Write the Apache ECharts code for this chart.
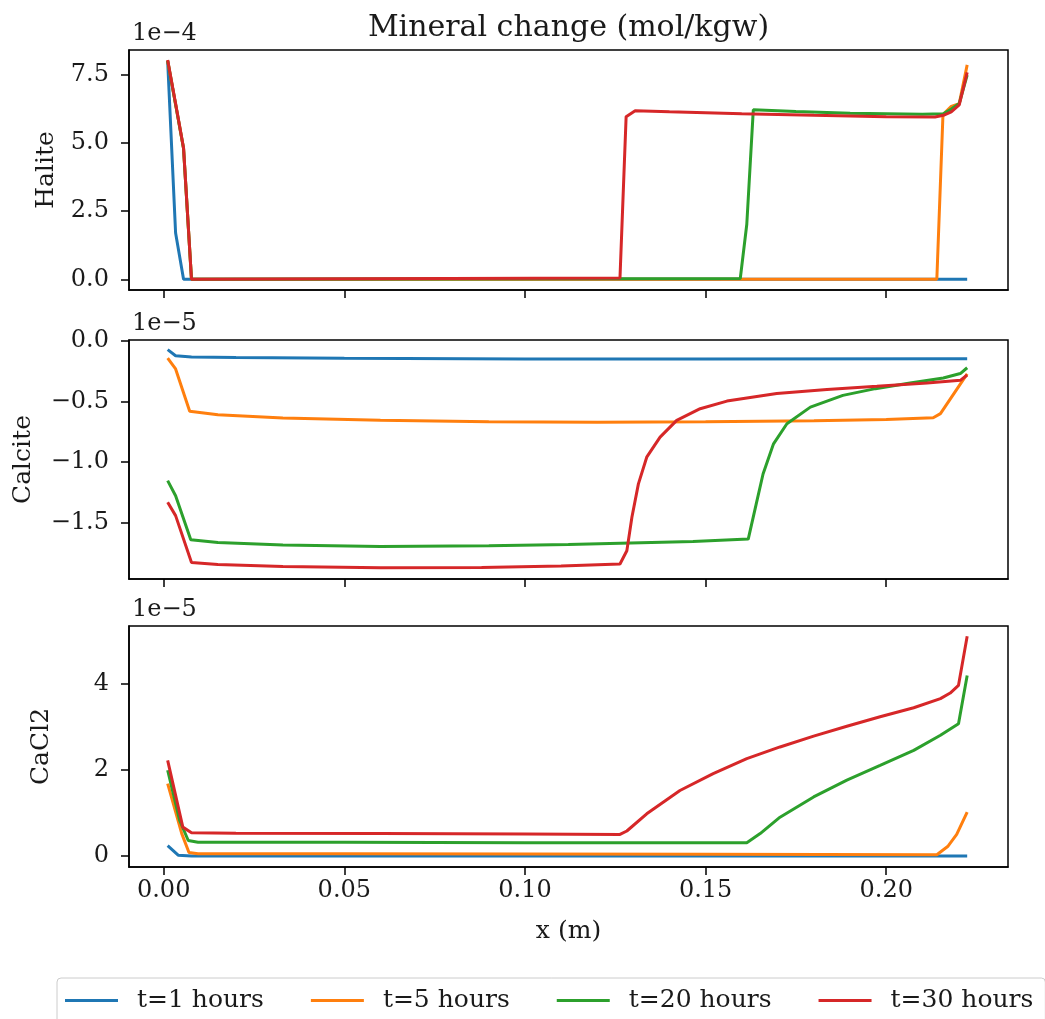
<!DOCTYPE html>
<html>
<head>
<meta charset="utf-8">
<script src="https://cdn.jsdelivr.net/npm/echarts@6/dist/echarts.min.js"></script>
<style>
  html, body { margin: 0; padding: 0; background: #fff; }
  #chart { width: 1045px; height: 1019px; }
</style>
</head>
<body>
<div id="chart"></div>
<script>
// ---- data: [x (m), value] pairs; halite in 1e-4 mol/kgw, calcite and CaCl2 in 1e-5 mol/kgw ----
const seriesNames = ['t=1 hours', 't=5 hours', 't=20 hours', 't=30 hours'];

const haliteT1 = [[0.0011, 8.02], [0.0033, 1.70], [0.0055, 0], [0.2224, 0]];
const haliteT5 = [[0.0011, 8.02], [0.0033, 6.42], [0.0055, 4.80], [0.0077, 0], [0.2140, 0],
  [0.2157, 6.05], [0.2180, 6.35], [0.2202, 6.45], [0.2224, 7.87]];
const haliteT20 = [[0.0011, 8.02], [0.0033, 6.42], [0.0055, 4.80], [0.0077, 0], [0.1596, 0.03],
  [0.1614, 2.02], [0.1632, 6.22], [0.1750, 6.16], [0.1900, 6.10], [0.2100, 6.06], [0.2158, 6.08],
  [0.2180, 6.25], [0.2202, 6.45], [0.2224, 7.50]];
const haliteT30 = [[0.0011, 8.05], [0.0033, 6.45], [0.0055, 4.82], [0.0077, 0], [0.1263, 0.05],
  [0.1280, 5.97], [0.1305, 6.19], [0.1400, 6.15], [0.1600, 6.08], [0.1800, 6.02], [0.2000, 5.97],
  [0.2135, 5.96], [0.2158, 6.02], [0.2180, 6.15], [0.2202, 6.40], [0.2224, 7.60]];

const calciteT1 = [[0.0011, -0.07], [0.0033, -0.12], [0.0077, -0.13], [0.0200, -0.135],
  [0.0500, -0.142], [0.1000, -0.147], [0.1500, -0.148], [0.2224, -0.146]];
const calciteT5 = [[0.0011, -0.14], [0.0033, -0.23], [0.0072, -0.58], [0.0150, -0.61],
  [0.0330, -0.637], [0.0600, -0.655], [0.0900, -0.667], [0.1200, -0.672], [0.1500, -0.668],
  [0.1800, -0.660], [0.2000, -0.648], [0.2130, -0.634], [0.2150, -0.60], [0.2224, -0.27]];
const calciteT20 = [[0.0011, -1.155], [0.0033, -1.28], [0.0075, -1.645], [0.0150, -1.667],
  [0.0330, -1.689], [0.0600, -1.700], [0.0900, -1.694], [0.1120, -1.684], [0.1465, -1.660],
  [0.1618, -1.639], [0.1640, -1.35], [0.1659, -1.10], [0.1688, -0.85], [0.1725, -0.684],
  [0.1790, -0.546], [0.1880, -0.449], [0.1970, -0.393], [0.2066, -0.346], [0.2158, -0.305],
  [0.2205, -0.268], [0.2224, -0.22]];
const calciteT30 = [[0.0011, -1.335], [0.0033, -1.445], [0.0077, -1.833], [0.0150, -1.850],
  [0.0330, -1.866], [0.0600, -1.877], [0.0880, -1.874], [0.1100, -1.862], [0.1263, -1.846],
  [0.1282, -1.736], [0.1296, -1.459], [0.1314, -1.182], [0.1337, -0.961], [0.1374, -0.795],
  [0.1420, -0.656], [0.1485, -0.559], [0.1559, -0.496], [0.1697, -0.434], [0.1836, -0.401],
  [0.1974, -0.374], [0.2113, -0.346], [0.2205, -0.324], [0.2224, -0.28]];

const cacl2T1 = [[0.0011, 0.24], [0.0040, 0.02], [0.0077, 0], [0.2224, 0]];
const cacl2T5 = [[0.0011, 1.68], [0.0050, 0.52], [0.0070, 0.08], [0.0095, 0.05], [0.0500, 0.05],
  [0.1500, 0.04], [0.2140, 0.03], [0.2170, 0.22], [0.2195, 0.50], [0.2224, 1.02]];
const cacl2T20 = [[0.0011, 1.99], [0.0044, 0.83], [0.0068, 0.36], [0.0095, 0.32], [0.0500, 0.32],
  [0.1000, 0.31], [0.1614, 0.31], [0.1651, 0.52], [0.1706, 0.90], [0.1799, 1.37], [0.1891, 1.76],
  [0.1983, 2.10], [0.2076, 2.45], [0.2150, 2.80], [0.2200, 3.07], [0.2224, 4.19]];
const cacl2T30 = [[0.0011, 2.22], [0.0053, 0.67], [0.0077, 0.54], [0.0200, 0.53], [0.0600, 0.52],
  [0.1000, 0.51], [0.1263, 0.50], [0.1282, 0.58], [0.1337, 0.98], [0.1429, 1.52], [0.1521, 1.91],
  [0.1614, 2.26], [0.1706, 2.53], [0.1799, 2.78], [0.1891, 3.01], [0.1983, 3.23], [0.2076, 3.44],
  [0.2150, 3.65], [0.2177, 3.78], [0.2200, 3.96], [0.2224, 5.10]];

// tick positions
const xTicks = [0, 0.05, 0.10, 0.15, 0.20];
const haliteTicks = [0, 2.5, 5.0, 7.5];
const calciteTicks = [-1.5, -1.0, -0.5, 0.0];
const cacl2Ticks = [0, 2, 4];

// ---- layout and style ----
const FONT = '"DejaVu Serif", serif';
const FS = 24;      // tick labels
const FS_NAME = 25; // axis titles and legend
const COLORS = ['#1f77b4', '#ff7f0e', '#2ca02c', '#d62728'];
const TEXT = '#1a1a1a';
const LEFT = 129, RIGHT = 1008;
const panels = [
  { top: 50, height: 240, min: -0.393, max: 8.418, ticks: haliteTicks, digits: 1,
    name: 'Halite', gap: 70, scale: '1e\u22124', data: [haliteT1, haliteT5, haliteT20, haliteT30] },
  { top: 340, height: 239, min: -1.97, max: 0.01, ticks: calciteTicks, digits: 1,
    name: 'Calcite', gap: 93, scale: '1e\u22125', data: [calciteT1, calciteT5, calciteT20, calciteT30] },
  { top: 626, height: 241, min: -0.255, max: 5.336, ticks: cacl2Ticks, digits: 0,
    name: 'CaCl2', gap: 75, scale: '1e\u22125', data: [cacl2T1, cacl2T5, cacl2T20, cacl2T30] }
];

const fmt = (v, d) => (v < 0 ? '\u2212' : '') + Math.abs(v).toFixed(d);

const grids = [], xAxes = [], yAxes = [], series = [], graphics = [];
panels.forEach((p, i) => {
  grids.push({ left: LEFT, width: RIGHT - LEFT, top: p.top, height: p.height,
    show: true, borderColor: '#000', borderWidth: 1.5, backgroundColor: 'transparent' });
  xAxes.push({
    type: 'value', gridIndex: i, min: -0.0096, max: 0.2337,
    axisLine: { show: true, onZero: false, lineStyle: { color: '#000', width: 1.5 } },
    axisTick: { show: true, length: 8, customValues: xTicks, lineStyle: { color: '#000', width: 1.5 } },
    axisLabel: { show: i === 2, customValues: xTicks, margin: 12, fontFamily: FONT, fontSize: FS,
      color: TEXT, formatter: v => v.toFixed(2) },
    splitLine: { show: false },
    name: i === 2 ? 'x (m)' : '', nameLocation: 'middle', nameGap: 52,
    nameTextStyle: { fontFamily: FONT, fontSize: FS_NAME, color: TEXT }
  });
  yAxes.push({
    type: 'value', gridIndex: i, min: p.min, max: p.max,
    axisLine: { show: true, onZero: false, lineStyle: { color: '#000', width: 1.5 } },
    axisTick: { show: true, length: 8, customValues: p.ticks, lineStyle: { color: '#000', width: 1.5 } },
    axisLabel: { customValues: p.ticks, margin: 20, fontFamily: FONT, fontSize: FS, color: TEXT,
      formatter: v => fmt(v, p.digits) },
    splitLine: { show: false },
    name: p.name, nameLocation: 'middle', nameRotate: 90, nameGap: p.gap,
    nameTextStyle: { fontFamily: FONT, fontSize: FS_NAME, color: TEXT }
  });
  p.data.forEach((d, k) => {
    series.push({
      type: 'line', name: seriesNames[k], xAxisIndex: i, yAxisIndex: i, data: d,
      showSymbol: false, symbol: 'none', color: COLORS[k],
      lineStyle: { width: 3, color: COLORS[k] }, z: 2 + k
    });
  });
  // axis scale factor shown above each panel
  graphics.push({ type: 'text', x: LEFT + 3, y: p.top - 16,
    style: { text: p.scale, fontFamily: FONT, fontSize: FS, fill: TEXT, align: 'left', verticalAlign: 'middle' } });
});

graphics.push({ type: 'text', x: (LEFT + RIGHT) / 2, y: 28,
  style: { text: 'Mineral change (mol/kgw)', fontFamily: FONT, fontSize: 30, fill: TEXT,
    align: 'center', verticalAlign: 'middle' } });

const chart = echarts.init(document.getElementById('chart'), null, { renderer: 'canvas' });
chart.setOption({
  animation: false,
  backgroundColor: '#fff',
  grid: grids,
  xAxis: xAxes,
  yAxis: yAxes,
  series: series,
  graphic: graphics,
  legend: {
    data: seriesNames.map((n, k) => ({ name: n, itemStyle: { color: COLORS[k] } })),
    left: 57, top: 978, width: 1200, orient: 'horizontal',
    icon: 'rect', itemWidth: 53, itemHeight: 3, itemGap: 47,
    padding: [10, 12, 10, 8],
    backgroundColor: '#fff', borderColor: '#ccc', borderWidth: 1, borderRadius: 4,
    textStyle: { fontFamily: FONT, fontSize: FS_NAME, color: TEXT, padding: [0, 0, 0, 14] }
  }
});
</script>
</body>
</html>
